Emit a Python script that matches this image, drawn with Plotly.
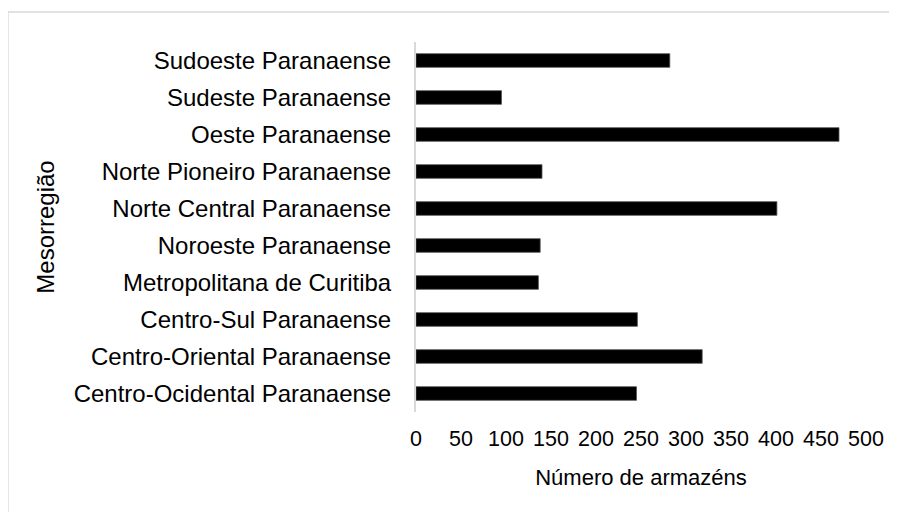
import plotly.graph_objects as go

categories = [
    "Centro-Ocidental Paranaense",
    "Centro-Oriental Paranaense",
    "Centro-Sul Paranaense",
    "Metropolitana de Curitiba",
    "Noroeste Paranaense",
    "Norte Central Paranaense",
    "Norte Pioneiro Paranaense",
    "Oeste Paranaense",
    "Sudeste Paranaense",
    "Sudoeste Paranaense",
]
values = [245, 318, 246, 136, 138, 401, 140, 470, 95, 282]
x_ticks = [0, 50, 100, 150, 200, 250, 300, 350, 400, 450, 500]

OFF = 8  # default page body margin
W, H = 897 - OFF, 512 - OFF
L, T = 416 - OFF, 42 - OFF
R = W - (866 - OFF)
B = H - (412 - OFF)
pw, ph = W - L - R, H - T - B

fig = go.Figure(go.Bar(
    y=categories, x=values, orientation="h",
    marker=dict(color="black", line=dict(color="#555555", width=0.8)),
))

def px2x(px):
    return (px - OFF - L) / pw

def py2y(py):
    return (H - B - (py - OFF)) / ph

fig.add_shape(type="rect", xref="paper", yref="paper",
              x0=px2x(8), x1=px2x(896), y0=py2y(530), y1=py2y(12),
              line=dict(color="#d9d9d9", width=1.3), layer="below")

fig.update_layout(
    width=W, height=H,
    margin=dict(l=L, r=R, t=T, b=B),
    plot_bgcolor="white", paper_bgcolor="white",
    bargap=0.63,
    showlegend=False,
    font=dict(family="Liberation Sans, Arial", size=22, color="black"),
)
fig.update_xaxes(
    range=[0, 500], tickvals=x_ticks, showgrid=False, zeroline=False,
    showline=False, ticks="", tickfont=dict(size=21.5), ticklabelstandoff=11,
    title=dict(text="Número de armazéns", font=dict(size=22), standoff=20),
)
fig.update_yaxes(
    showgrid=False, zeroline=False, showline=True, linecolor="#d9d9d9",
    linewidth=2, ticks="", ticklabelstandoff=18, tickfont=dict(size=24),
    title=dict(text="Mesorregião", font=dict(size=24), standoff=12),
)

fig.write_html("out.html")
